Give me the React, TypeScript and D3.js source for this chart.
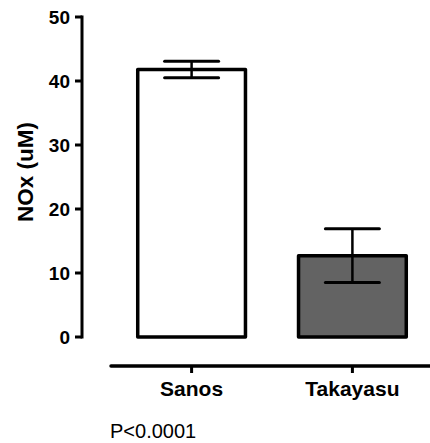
import React, { useEffect, useRef } from 'react';
import * as d3 from 'd3';

const groups = ['Sanos', 'Takayasu'];
const means = [41.8, 12.7];
const sems = [1.3, 4.2];
const fills = ['#ffffff', '#636363'];
const yTicks = [0, 10, 20, 30, 40, 50];
const yTitle = 'NOx (uM)';
const note = 'P<0.0001';

const W = 430;
const H = 443;

const App: React.FC = () => {
  const svgRef = useRef<SVGSVGElement>(null);

  useEffect(() => {
    const svg = d3.select(svgRef.current);
    svg.selectAll('*').remove();

    const font = 'Arial, "Liberation Sans", sans-serif';

    const yScale = d3.scaleLinear().domain([0, 50]).range([337, 17]);
    const xScale = d3.scaleBand()
      .domain(groups)
      .range([112, 432])
      .paddingInner(0.33)
      .paddingOuter(0.16);

    // Y axis
    const yAxis = svg.append('g');
    yAxis.append('line')
      .attr('x1', 82).attr('x2', 82)
      .attr('y1', yScale(50) - 1.5).attr('y2', yScale(0) + 1.5)
      .attr('stroke', '#000').attr('stroke-width', 3);
    yTicks.forEach(t => {
      yAxis.append('line')
        .attr('x1', 75).attr('x2', 82)
        .attr('y1', yScale(t)).attr('y2', yScale(t))
        .attr('stroke', '#000').attr('stroke-width', 3);
      yAxis.append('text')
        .attr('x', 70).attr('y', yScale(t))
        .attr('dy', '0.36em')
        .attr('text-anchor', 'end')
        .attr('font-family', font)
        .attr('font-weight', 'bold')
        .attr('font-size', 19)
        .text(t);
    });

    // Y title
    svg.append('text')
      .attr('transform', `translate(33,172) rotate(-90)`)
      .attr('text-anchor', 'middle')
      .attr('font-family', font)
      .attr('font-weight', 'bold')
      .attr('font-size', 22)
      .attr('textLength', 100)
      .attr('lengthAdjust', 'spacingAndGlyphs')
      .text(yTitle);

    // Bars
    groups.forEach((g, i) => {
      const x0 = xScale(g)!;
      const bw = xScale.bandwidth();
      const cx = x0 + bw / 2;
      svg.append('rect')
        .attr('x', x0).attr('y', yScale(means[i]))
        .attr('width', bw).attr('height', yScale(0) - yScale(means[i]))
        .attr('fill', fills[i])
        .attr('stroke', '#000').attr('stroke-width', 3.5)
        .attr('stroke-linejoin', 'round');

      const hi = yScale(means[i] + sems[i]);
      const lo = yScale(means[i] - sems[i]);
      svg.append('line')
        .attr('x1', cx).attr('x2', cx).attr('y1', hi).attr('y2', lo)
        .attr('stroke', '#000').attr('stroke-width', 2.5);
      [hi, lo].forEach(y => {
        svg.append('line')
          .attr('x1', cx - 27).attr('x2', cx + 27).attr('y1', y).attr('y2', y)
          .attr('stroke', '#000').attr('stroke-width', 3).attr('stroke-linecap', 'round');
      });
    });

    // X axis (offset)
    const xAxisY = 366;
    svg.append('line')
      .attr('x1', 111).attr('x2', 432)
      .attr('y1', xAxisY).attr('y2', xAxisY)
      .attr('stroke', '#000').attr('stroke-width', 3.5).attr('stroke-linecap', 'round');
    groups.forEach(g => {
      const cx = xScale(g)! + xScale.bandwidth() / 2;
      svg.append('line')
        .attr('x1', cx).attr('x2', cx).attr('y1', xAxisY).attr('y2', xAxisY + 7)
        .attr('stroke', '#000').attr('stroke-width', 3);
      svg.append('text')
        .attr('x', cx).attr('y', 396)
        .attr('text-anchor', 'middle')
        .attr('font-family', font)
        .attr('font-weight', 'bold')
        .attr('font-size', 21)
        .text(g);
    });

    svg.append('text')
      .attr('x', 110).attr('y', 438)
      .attr('font-family', font)
      .attr('font-size', 20)
      .text(note);
  }, []);

  return (
    <div style={{ position: 'absolute', left: 0, top: 0 }}>
      <svg ref={svgRef} width={W} height={H} style={{ display: 'block', background: '#fff' }} />
    </div>
  );
};

export default App;
